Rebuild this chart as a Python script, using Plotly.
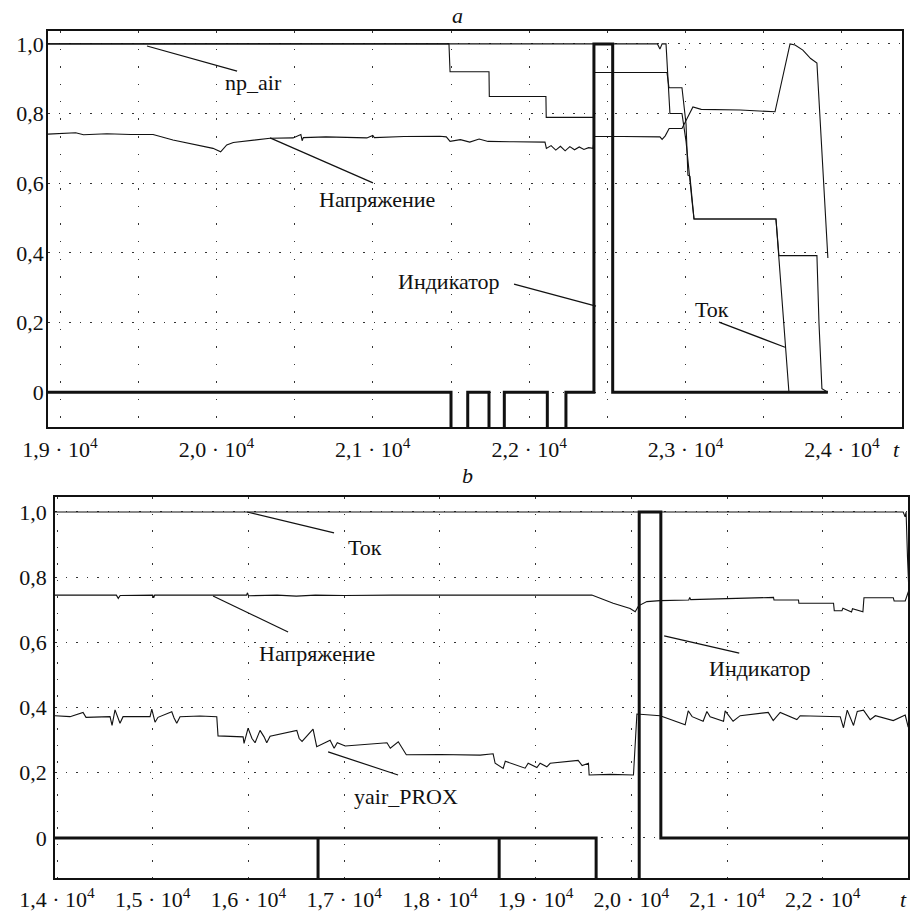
import plotly.graph_objects as go

# ---------------- Panel a data ----------------
a_ind_t = [18923, 21500, 21607, 21743, 21841, 22116, 22235, 22414, 22534, 23910]
a_ind_v = [0, -0.2, 0, -0.2, 0, -0.2, 0, 1.0, 0, 0]

a_tok_t = [18923, 21487, 21494, 21743, 21745, 22107, 22109, 22411, 22413, 22881, 22894,
           22977, 23003, 23015, 23028, 23054, 23578, 23661]
a_tok_v = [1.0, 1.0, 0.92, 0.92, 0.849, 0.849, 0.789, 0.789, 0.918, 0.918, 0.874,
           0.874, 0.77, 0.623, 0.62, 0.497, 0.497, 0.0]

a_air_t = [18923, 22820, 22836, 22850, 22875, 22900, 22977, 23003, 23041, 23054, 23578,
           23597, 23840, 23853, 23872, 23910]
a_air_v = [1.0, 1.0, 0.985, 1.0, 1.0, 0.80, 0.80, 0.72, 0.55, 0.497, 0.497,
           0.392, 0.392, 0.2, 0.01, 0.0]

a_volt_t = [18923, 19000, 19100, 19150, 19200, 19300, 19450, 19595, 19722, 19895, 19978,
            20027, 20066, 20108, 20235, 20343, 20490, 20540, 20548, 20556, 20700, 20962,
            21000, 21010, 21200, 21430, 21470, 21494, 21560, 21620, 21680, 21737, 21900,
            22101, 22110, 22140, 22170, 22200, 22230, 22260, 22290, 22320, 22350, 22380,
            22408, 22418, 22600, 22836, 22850, 22870, 22895, 22977, 23003, 23047, 23100,
            23350, 23572, 23668, 23700, 23750, 23800, 23840, 23910]
a_volt_v = [0.741, 0.742, 0.745, 0.739, 0.740, 0.742, 0.740, 0.740, 0.724, 0.707, 0.700,
            0.690, 0.710, 0.717, 0.724, 0.729, 0.730, 0.740, 0.722, 0.731, 0.733, 0.730,
            0.737, 0.731, 0.734, 0.735, 0.733, 0.720, 0.725, 0.718, 0.727, 0.720, 0.719,
            0.718, 0.700, 0.708, 0.695, 0.706, 0.693, 0.705, 0.696, 0.704, 0.697, 0.702,
            0.700, 0.734, 0.734, 0.733, 0.726, 0.736, 0.757, 0.757, 0.780, 0.819, 0.812,
            0.810, 0.805, 1.000, 0.997, 0.982, 0.958, 0.945, 0.385]

a_xticks = [19000, 20000, 21000, 22000, 23000, 24000]
a_xlabels = ["1,9 · 10<sup>4</sup>", "2,0 · 10<sup>4</sup>", "2,1 · 10<sup>4</sup>",
             "2,2 · 10<sup>4</sup>", "2,3 · 10<sup>4</sup>", "2,4 · 10<sup>4</sup>"]
a_xminor = [19500, 20500, 21500, 22500, 23500]

# ---------------- Panel b data ----------------
b_ind_t = [13979, 16727, 16727, 18619, 18619, 19632, 20082, 20308, 22899]
b_ind_v = [0, -0.2, 0, -0.2, 0, -0.2, 1.0, 0, 0]

b_tok_t = [13979, 22840, 22860, 22870, 22885, 22899]
b_tok_v = [1.0, 1.0, 0.985, 1.0, 0.86, 0.76]

b_volt_t = [13979, 14300, 14620, 14640, 14660, 15000, 15010, 15020, 15500, 15980, 15990,
            16000, 16300, 16500, 16700, 17000, 17500, 18000, 18500, 19000, 19587, 19810,
            19987, 20040, 20075, 20162, 20300, 20600, 20610, 20620, 21000, 21485, 21490,
            21746, 21750, 22112, 22120, 22200, 22210, 22300, 22310, 22419, 22430, 22736,
            22745, 22861, 22899]
b_volt_v = [0.745, 0.745, 0.745, 0.735, 0.744, 0.745, 0.737, 0.745, 0.744, 0.745, 0.752,
            0.743, 0.745, 0.742, 0.745, 0.744, 0.745, 0.745, 0.746, 0.744, 0.745, 0.720,
            0.704, 0.694, 0.712, 0.725, 0.728, 0.730, 0.738, 0.731, 0.735, 0.738, 0.730,
            0.730, 0.720, 0.720, 0.697, 0.697, 0.705, 0.693, 0.703, 0.694, 0.737, 0.737,
            0.727, 0.727, 0.76]

b_prox_t = [13979, 14136, 14272, 14303, 14554, 14575, 14606, 14637, 14658, 14690, 14972,
            14990, 15024, 15055, 15199, 15223, 15251, 15285, 15494, 15669, 15682, 15944,
            15954, 15996, 16037, 16069, 16121, 16163, 16191, 16226, 16505, 16530, 16560,
            16675, 16713, 16853, 16895, 16928, 17011, 17447, 17482, 17565, 17617, 17649,
            18002, 18210, 18420, 18556, 18577, 18661, 18683, 18890, 18922, 19013, 19047,
            19117, 19152, 19444, 19486, 19552, 19559, 19779, 20022, 20058, 20301, 20562,
            20594, 20635, 20750, 20789, 20823, 20963, 20980, 21063, 21137, 21430, 21482,
            21555, 21729, 21764, 22182, 22216, 22255, 22321, 22360, 22425, 22495, 22549,
            22736, 22861, 22892]
b_prox_v = [0.375, 0.372, 0.385, 0.370, 0.372, 0.345, 0.393, 0.370, 0.352, 0.372, 0.372,
            0.395, 0.355, 0.370, 0.387, 0.368, 0.352, 0.372, 0.374, 0.372, 0.313, 0.310,
            0.290, 0.337, 0.305, 0.292, 0.330, 0.310, 0.292, 0.312, 0.330, 0.305, 0.296,
            0.334, 0.280, 0.300, 0.275, 0.292, 0.282, 0.292, 0.275, 0.295, 0.268, 0.255,
            0.256, 0.255, 0.254, 0.258, 0.229, 0.213, 0.235, 0.214, 0.229, 0.216, 0.229,
            0.218, 0.229, 0.238, 0.222, 0.229, 0.193, 0.195, 0.193, 0.380, 0.375, 0.347,
            0.390, 0.372, 0.358, 0.388, 0.372, 0.358, 0.390, 0.358, 0.375, 0.385, 0.360,
            0.385, 0.363, 0.375, 0.372, 0.338, 0.392, 0.345, 0.388, 0.392, 0.363, 0.375,
            0.360, 0.377, 0.340]

b_xticks = [14000, 15000, 16000, 17000, 18000, 19000, 20000, 21000, 22000]
b_xlabels = ["1,4 · 10<sup>4</sup>", "1,5 · 10<sup>4</sup>", "1,6 · 10<sup>4</sup>",
             "1,7 · 10<sup>4</sup>", "1,8 · 10<sup>4</sup>", "1,9 · 10<sup>4</sup>",
             "2,0 · 10<sup>4</sup>", "2,1 · 10<sup>4</sup>", "2,2 · 10<sup>4</sup>"]

y_ticks = [0, 0.2, 0.4, 0.6, 0.8, 1.0]
y_labels = ["0", "0,2", "0,4", "0,6", "0,8", "1,0"]

# ---------------- Figure ----------------
FONT = "Liberation Serif"
BLACK = "#111111"
THIN = 1.1
THICK = 3.0

fig = go.Figure()

def line(t, v, xa, ya, w):
    fig.add_trace(go.Scatter(x=t, y=v, mode="lines", xaxis=xa, yaxis=ya,
                             line=dict(color=BLACK, width=w), showlegend=False,
                             hoverinfo="skip"))

def steps(t, v, xa, ya, w):
    fig.add_trace(go.Scatter(x=t, y=v, mode="lines", xaxis=xa, yaxis=ya,
                             line=dict(color=BLACK, width=w, shape="hv"), showlegend=False,
                             hoverinfo="skip"))

# panel a
line(a_volt_t, a_volt_v, "x", "y", THIN)
line(a_air_t, a_air_v, "x", "y", THIN)
line(a_tok_t, a_tok_v, "x", "y", THIN)
steps(a_ind_t, a_ind_v, "x", "y", THICK)
# panel b
line(b_volt_t, b_volt_v, "x2", "y2", THIN)
line(b_prox_t, b_prox_v, "x2", "y2", THIN)
line(b_tok_t, b_tok_v, "x2", "y2", THIN)
steps(b_ind_t, b_ind_v, "x2", "y2", THICK)

W, H = 910, 912
def px(xp):
    return xp / W
def py(yp):
    return 1 - yp / H

GRIDC = "#333333"
axis_common = dict(showline=True, mirror=True, linecolor=BLACK, linewidth=1.5,
                   zeroline=False, ticks="", showgrid=True, gridcolor=GRIDC,
                   gridwidth=1.4, automargin=False,
                   tickfont=dict(family=FONT, size=22, color=BLACK))

fig.update_layout(
    width=W, height=H, margin=dict(l=0, r=0, t=0, b=0, autoexpand=False),
    paper_bgcolor="white", plot_bgcolor="white",
    xaxis=dict(domain=[px(48), px(902)], range=[18923, 24384], anchor="y",
               tickvals=a_xticks, ticktext=a_xlabels, griddash="1.5px,16px",
               minor=dict(tickvals=a_xminor, showgrid=True, gridcolor=GRIDC,
                          gridwidth=1.4, griddash="1.5px,16px", ticks=""),
               ticklabelstandoff=2, **axis_common),
    yaxis=dict(domain=[py(427), py(31)], range=[-0.10, 1.037], anchor="x",
               tickvals=y_ticks, ticktext=y_labels, griddash="1.5px,9px",
               ticklabelstandoff=-2, **axis_common),
    xaxis2=dict(domain=[px(55), px(908)], range=[13979, 22890], anchor="y2",
                tickvals=b_xticks, ticktext=b_xlabels, griddash="1.5px,15px",
                ticklabelstandoff=1, **axis_common),
    yaxis2=dict(domain=[py(878), py(497)], range=[-0.123, 1.046], anchor="x2",
                tickvals=y_ticks, ticktext=y_labels, griddash="1.5px,9px",
                ticklabelstandoff=2, **axis_common),
)

# leader lines (data coordinates)
leaders = [
    ("x", "y", 19556, 0.994, 20132, 0.922),
    ("x", "y", 20343, 0.730, 21001, 0.601),
    ("x", "y", 21903, 0.310, 22427, 0.247),
    ("x", "y", 23214, 0.201, 23636, 0.129),
    ("x2", "y2", 15985, 1.000, 16894, 0.936),
    ("x2", "y2", 15630, 0.742, 16414, 0.632),
    ("x2", "y2", 16832, 0.264, 17563, 0.193),
    ("x2", "y2", 20343, 0.620, 21127, 0.567),
]
for xr, yr, x0, y0, x1, y1 in leaders:
    fig.add_shape(type="line", xref=xr, yref=yr, x0=x0, y0=y0, x1=x1, y1=y1,
                  line=dict(color=BLACK, width=1.2))

labels = [
    ("x", "y", 20234, 0.888, "np_air"),
    ("x", "y", 21027, 0.552, "Напряжение"),
    ("x", "y", 21487, 0.319, "Индикатор"),
    ("x", "y", 23169, 0.236, "Ток"),
    ("x2", "y2", 17218, 0.890, "Ток"),
    ("x2", "y2", 16717, 0.567, "Напряжение"),
    ("x2", "y2", 17647, 0.126, "yair_PROX"),
    ("x2", "y2", 21346, 0.521, "Индикатор"),
]
for xr, yr, x, y, txt in labels:
    fig.add_annotation(xref=xr, yref=yr, x=x, y=y, text=txt, showarrow=False,
                       font=dict(family=FONT, size=22, color=BLACK),
                       xanchor="center", yanchor="middle")

# panel titles and axis name "t"
for x, y, txt in [(457, 15, "a"), (468, 476, "b"), (896, 449, "t"), (903, 899, "t")]:
    fig.add_annotation(xref="paper", yref="paper", x=px(x), y=py(y), text="<i>" + txt + "</i>",
                       showarrow=False, font=dict(family=FONT, size=22, color=BLACK),
                       xanchor="center", yanchor="middle")

# remove the page's default 8px body margin so the figure fills the window exactly
fig.write_html("out.html", config={"displayModeBar": False},
               post_script="document.body.style.margin='0';")
